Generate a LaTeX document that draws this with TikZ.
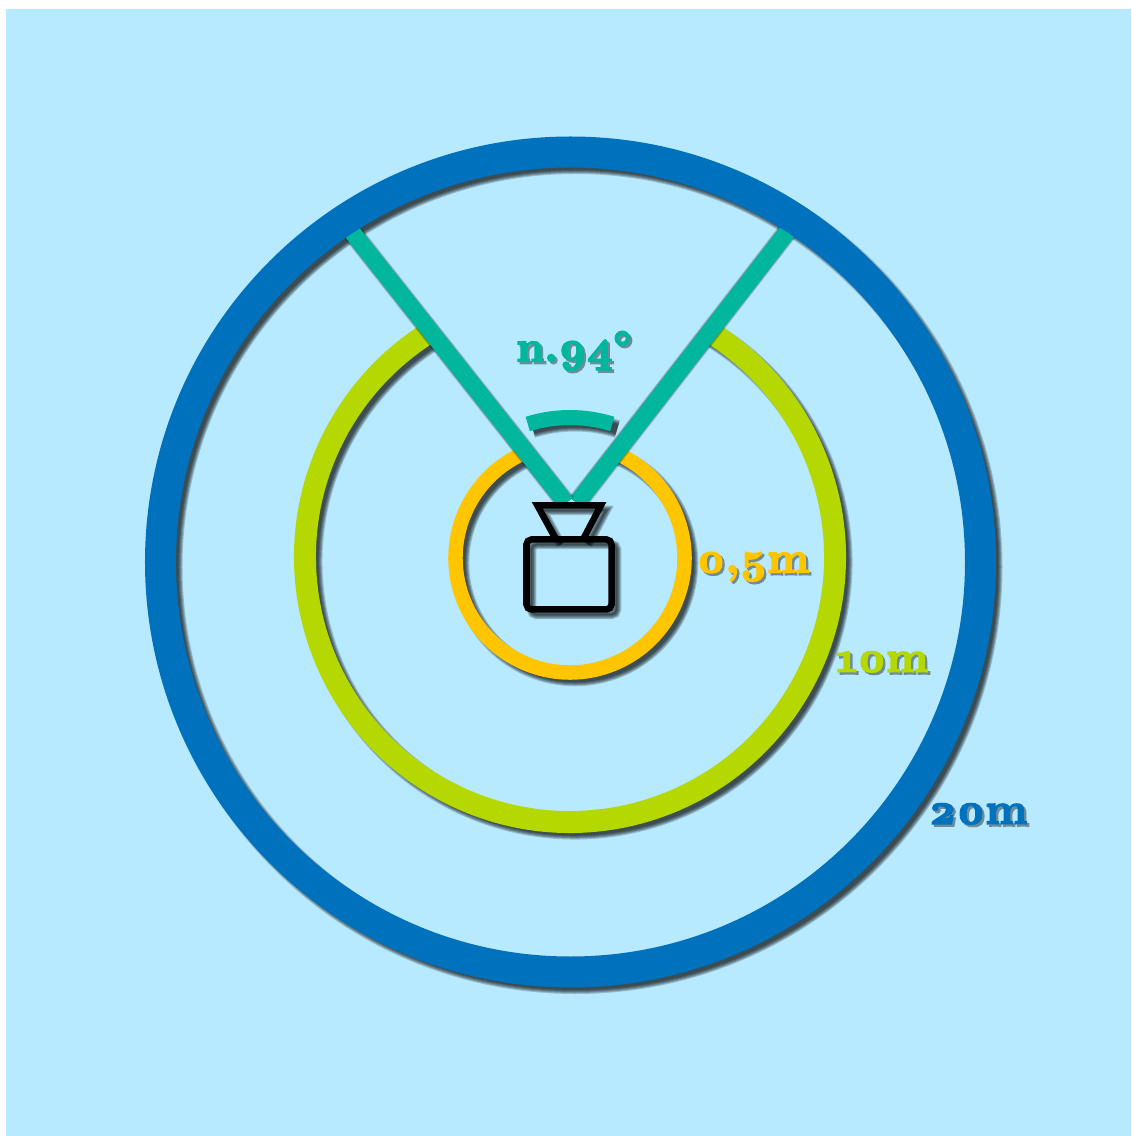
\documentclass[tikz,border=0pt]{standalone}
\usepackage{fontspec}
\usepackage{xcolor}
\usetikzlibrary{positioning}

\newfontface\rangefont{lmroman10-bold.otf}[Numbers=OldStyle,FakeBold=3.5]
\definecolor{skybg}{RGB}{184,234,255}
\definecolor{rangeblue}{RGB}{0,113,188}
\definecolor{rangegreen}{RGB}{181,216,0}
\definecolor{rangeyellow}{RGB}{255,198,0}
\definecolor{angleteal}{RGB}{0,183,157}
\definecolor{labelshade}{RGB}{110,140,152}

% soft shadow: same path, shifted down right, a few widths
\newcommand{\softshadow}[2]{%
  \foreach \w in {-0.1,-0.06,-0.02,0.02,0.06}{
    \draw[black, opacity=0.2, line width=#1cm+\w cm, shift={(0.1,-0.1)}] #2;
  }%
}
\newcommand{\shadedtext}[1]{\rlap{\raisebox{-1.3pt}{\kern1.3pt\textcolor{labelshade}{#1}}}#1}

\begin{document}
\begin{tikzpicture}[
  rangelabel/.style={font=\rangefont\fontsize{25}{26}\selectfont, inner sep=0pt}
]
  \useasboundingbox (-11.4,-11.56) rectangle (11.22,11.16);
  \fill[skybg] (-11.28,-11.56) rectangle (11.22,10.98);

  % Range rings, open at the top
  \softshadow{0.44}{(0,0.02) ++(59:5.3) arc[start angle=59, end angle=-239, radius=5.3]}
  \draw[rangegreen, line width=0.44cm] (0,0.02) ++(59:5.3) arc[start angle=59, end angle=-239, radius=5.3];

  \softshadow{0.29}{(0,0) ++(70:2.29) arc[start angle=70, end angle=-250, radius=2.29]}
  \draw[rangeyellow, line width=0.29cm] (0,0) ++(70:2.29) arc[start angle=70, end angle=-250, radius=2.29];

  % Outer ring shadow goes under the field of view
  \softshadow{0.62}{(0.01,-0.08) circle (8.2)}

  % Field of view
  \coordinate (apexl) at (-0.08,1.1);
  \coordinate (apexr) at (0.14,1.1);
  \coordinate (fovl) at (-4.44,6.62);
  \coordinate (fovr) at (4.42,6.62);
  \softshadow{0.34}{(fovr) -- (apexr)}
  \draw[angleteal, line width=0.34cm] (fovr) -- (apexr);
  \softshadow{0.34}{(fovl) -- (apexl)}
  \draw[angleteal, line width=0.34cm] (fovl) -- (apexl);

  % Outer ring
  \draw[rangeblue, line width=0.62cm] (0.01,-0.08) circle (8.2);

  % Angle mark
  \softshadow{0.3}{(0,0) ++(72.5:2.81) arc[start angle=72.5, end angle=107.5, radius=2.81]}
  \draw[angleteal, line width=0.3cm] (0,0) ++(72.5:2.81) arc[start angle=72.5, end angle=107.5, radius=2.81];

  % Camera
  \softshadow{0.13}{[rounded corners=0.1cm] (-0.87,-1.03) rectangle (0.83,0.37)}
  \softshadow{0.13}{(-0.28,0.37) -- (-0.654,1.054) -- (0.62,1.054) -- (0.26,0.37)}
  \draw[black, line width=0.13cm, rounded corners=0.1cm] (-0.87,-1.03) rectangle (0.83,0.37);
  \draw[black, line width=0.13cm] (-0.28,0.37) -- (-0.654,1.054) -- (0.62,1.054) -- (0.26,0.37);

  % Labels
  \node[rangelabel, text=angleteal] (angle) at (0.08,4.12) {\shadedtext{n.94°}};
  \node[rangelabel, text=rangeyellow] (near) at (3.66,-0.2) {\shadedtext{0,5m}};
  \node[rangelabel, text=rangegreen] (mid) at (6.24,-2.1) {\shadedtext{10m}};
  \node[rangelabel, text=rangeblue] (far) at (8.16,-5.14) {\shadedtext{20m}};
\end{tikzpicture}
\end{document}
